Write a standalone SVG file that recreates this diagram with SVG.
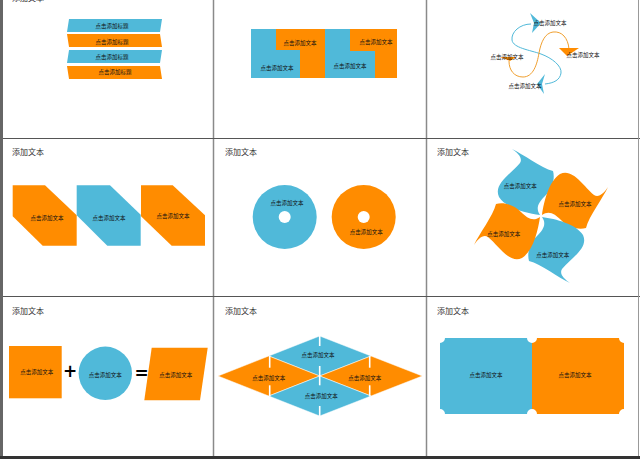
<svg xmlns="http://www.w3.org/2000/svg" width="640" height="459" viewBox="0 0 640 459">
<style>
.b{fill:#50B9D9}
.o{fill:#FF8C00}
.t{font-family:"Noto Sans CJK SC","Liberation Sans",sans-serif;font-size:5.5px;fill:#111;text-anchor:middle;dominant-baseline:central}
.h{font-family:"Noto Sans CJK SC","Liberation Sans",sans-serif;font-size:8px;fill:#333}
.grid{stroke:#8a8a8a;stroke-width:1.5;fill:none}
</style>
<defs>
<path id="petal" d="M -29,-67 C -18,-62 0,-48 12,-45 C 14,-38 12,-28 4,-20 C -2,-14 -6,-8 -1,-1 C -15,-3 -35,-8 -42,-19 C -48,-32 -30,-42 -21,-53 C -18,-58 -23,-63 -29,-67 Z"/>
</defs>
<rect x="0" y="0" width="640" height="459" fill="#fff"/>
<g id="grid">
<line class="grid" x1="213.5" y1="0" x2="213.5" y2="458"/>
<line class="grid" x1="426.5" y1="0" x2="426.5" y2="458"/>
<line x1="0" y1="138.5" x2="640" y2="138.5" stroke="#555" stroke-width="1.2"/>
<line x1="0" y1="296.5" x2="640" y2="296.5" stroke="#555" stroke-width="1.2"/>
<line x1="1.5" y1="0" x2="1.5" y2="459" stroke="#666" stroke-width="3"/>
<line x1="638.5" y1="0" x2="638.5" y2="459" stroke="#999" stroke-width="1"/>
<line x1="0" y1="457.5" x2="640" y2="457.5" stroke="#333" stroke-width="3"/>
</g>
<text class="h" x="12" y="0.5">添加文本</text>
<text class="h" x="12" y="155">添加文本</text>
<text class="h" x="225" y="155">添加文本</text>
<text class="h" x="437" y="155">添加文本</text>
<text class="h" x="12" y="314">添加文本</text>
<text class="h" x="225" y="314">添加文本</text>
<text class="h" x="437" y="314">添加文本</text>

<g id="bar1"><polygon class="b" points="69,19 162,19 160,32 67,32"/><text class="t" x="112" y="25.5">点击添加标题</text></g>
<g id="bar2"><polygon class="o" points="67,34 160,34 162,47 69,47"/><text class="t" x="112" y="41.5">点击添加标题</text></g>
<g id="bar3"><polygon class="b" points="69,50 162,50 160,63 67,63"/><text class="t" x="112" y="56.5">点击添加标题</text></g>
<g id="bar4"><polygon class="o" points="67,66 160,66 162,79 69,79"/><text class="t" x="115" y="71.5">点击添加标题</text></g>

<g id="block1">
<rect class="b" x="251" y="29" width="74" height="49"/>
<polygon class="o" points="276,29 325,29 325,78 300,78 300,50 276,50"/>
<text class="t" x="300" y="43">点击添加文本</text>
<text class="t" x="277" y="68">点击添加文本</text>
</g>
<g id="block2">
<rect class="b" x="325" y="29" width="72" height="49"/>
<polygon class="o" points="350,29 397,29 397,78 375,78 375,51 350,51"/>
<text class="t" x="376" y="42">点击添加文本</text>
<text class="t" x="350" y="66">点击添加文本</text>
</g>

<g id="connectors" fill="none" stroke-width="1">
<path d="M 531,24 C 520,24 511,32 512,40 C 513,48 530,50 541,54 C 552,58 562,66 561,73 C 560,80 554,83 545,84" stroke="#50B9D9"/>
<path d="M 509,61 C 509,70 514,77 523,77 C 533,77 537,65 539,53 C 541,42 545,33 553,32 C 562,31 568,38 569,49" stroke="#F0A030"/>
</g>
<g id="arrowTop"><polygon class="b" points="530,13 541,23 532,33 534,23"/><text class="t" x="550" y="23">点击添加文本</text></g>
<g id="arrowRight"><polygon class="o" points="559,48 579,48 567,56"/><text class="t" x="583" y="54.5">点击添加文本</text></g>
<g id="arrowLeft"><polygon class="o" points="500,57 516,57 510,61"/><text class="t" x="507" y="57">点击添加文本</text></g>
<g id="arrowBottom"><polygon class="b" points="545,74 537,84 544,94 542,84"/><text class="t" x="525" y="86">点击添加文本</text></g>

<g id="hex1"><polygon class="o" points="12.7,185.3 45,185.3 76.7,215.3 76.7,245.7 42.7,245.7 12.7,216.3"/><text class="t" x="47" y="218">点击添加文本</text></g>
<g id="hex2"><polygon class="b" points="76.7,185.3 110,185.3 140.7,214.7 140.7,245.7 107.3,245.7 76.7,215.3"/><text class="t" x="109" y="218">点击添加文本</text></g>
<g id="hex3"><polygon class="o" points="141,185.3 172.7,185.3 205,215.3 205,245.7 171.7,245.7 141,216.3"/><text class="t" x="173" y="215.7">点击添加文本</text></g>

<g id="disc1"><circle class="b" cx="284.7" cy="217" r="32"/><circle cx="284.7" cy="217" r="6" fill="#fff"/><text class="t" x="287" y="202.5">点击添加文本</text></g>
<g id="disc2"><circle class="o" cx="363.7" cy="217" r="32"/><circle cx="363.7" cy="217" r="6" fill="#fff"/><text class="t" x="366.3" y="232.3">点击添加文本</text></g>

<g id="petalTop"><use href="#petal" class="b" transform="translate(541,216)"/><text class="t" x="520.3" y="185.7">点击添加文本</text></g>
<g id="petalRight"><use href="#petal" class="o" transform="translate(541,216) rotate(90)"/><text class="t" x="575" y="204">点击添加文本</text></g>
<g id="petalBottom"><use href="#petal" class="b" transform="translate(541,216) rotate(180)"/><text class="t" x="552.7" y="255.3">点击添加文本</text></g>
<g id="petalLeft"><use href="#petal" class="o" transform="translate(541,216) rotate(270)"/><text class="t" x="503.7" y="233.7">点击添加文本</text></g>

<g id="square"><rect class="o" x="9" y="346" width="52.7" height="52.3"/><text class="t" x="36.7" y="372">点击添加文本</text></g>
<g id="plus"><text x="70" y="377" font-family="'DejaVu Sans',sans-serif" font-weight="bold" font-size="17" text-anchor="middle" fill="#000">+</text></g>
<g id="circle"><circle class="b" cx="105.3" cy="373.3" r="26.7"/><text class="t" x="105.3" y="375">点击添加文本</text></g>
<g id="equals"><text x="141.7" y="378.5" font-family="'DejaVu Sans',sans-serif" font-weight="bold" font-size="17" text-anchor="middle" fill="#000">=</text></g>
<g id="para"><polygon class="o" points="151.7,347.7 207.7,347.7 200,400.3 144.3,400.3"/><text class="t" x="175.7" y="375">点击添加文本</text></g>

<g id="rhTop"><polygon class="b" points="268.8,356 319.7,336 371,356 319.7,376" stroke="#fff" stroke-width="0.5"/><text class="t" x="318" y="355.3">点击添加文本</text></g>
<g id="rhLeft"><polygon class="o" points="218,376 268.8,356 319.7,376 268.8,396" stroke="#fff" stroke-width="0.5"/><text class="t" x="268.7" y="378.3">点击添加文本</text></g>
<g id="rhRight"><polygon class="o" points="319.7,376 371,356 422.3,376 371,396" stroke="#fff" stroke-width="0.5"/><text class="t" x="364.7" y="378.3">点击添加文本</text></g>
<g id="rhBottom"><polygon class="b" points="268.8,396 319.7,376 371,396 319.7,416" stroke="#fff" stroke-width="0.5"/><text class="t" x="321.3" y="396">点击添加文本</text></g>
<g id="ticks" stroke="#fff" stroke-width="1.6">
<line x1="319.7" y1="335" x2="319.7" y2="346"/>
<line x1="269.7" y1="356" x2="269.7" y2="367.7"/>
<line x1="269.7" y1="385.3" x2="269.7" y2="396.5"/>
<line x1="369.7" y1="356" x2="369.7" y2="367.7"/>
<line x1="369.7" y1="385.3" x2="369.7" y2="396.5"/>
<line x1="319.7" y1="366" x2="319.7" y2="385.3"/>
<line x1="319.7" y1="406" x2="319.7" y2="417"/>
</g>

<g id="ticket1"><path class="b" d="M 445,338 L 527,338 A 5 5 0 0 0 532,343 L 532,409 A 5 5 0 0 0 527,414 L 445,414 A 5 5 0 0 0 440,409 L 440,343 A 5 5 0 0 0 445,338 Z"/><text class="t" x="486" y="375">点击添加文本</text></g>
<g id="ticket2"><path class="o" d="M 537,338 L 619,338 A 5 5 0 0 0 624,343 L 624,409 A 5 5 0 0 0 619,414 L 537,414 A 5 5 0 0 0 532,409 L 532,343 A 5 5 0 0 0 537,338 Z"/><text class="t" x="575" y="375">点击添加文本</text></g>
</svg>
